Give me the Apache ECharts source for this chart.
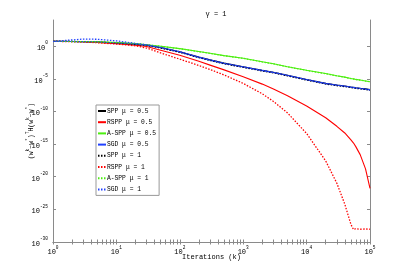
<!DOCTYPE html>
<html><head><meta charset="utf-8">
<script src="https://cdn.jsdelivr.net/npm/echarts@6/dist/echarts.min.js"></script>
<style>html,body{margin:0;padding:0;background:#fff}#c{width:409px;height:273px}</style>
</head><body><div id="c"></div>
<script>
// Iterations k (x values)
var iterations = [1,2,3,5,10,20,30,50,100,200,300,500,1000,2000,3000,5000,10000,20000,30000,40000,50000,55000,60000,70000,85000,100000];
// log10 of (w^k-w*)^T H (w^k-w*) for each series
var sppMu05Exp   = [.72,.71,.69,.63,.49,.30,.17,-.22,-.86,-1.68,-2.10,-2.60,-3.15,-3.70,-4.00,-4.45,-5.10,-5.70,-5.95,-6.10,-6.25,-6.30,-6.37,-6.45,-6.55,-6.65];
var rsppMu05Exp  = [.72,.70,.66,.55,.38,.15,-.05,-.62,-1.40,-2.33,-2.91,-3.64,-4.68,-5.82,-6.58,-7.61,-9.17,-10.97,-12.28,-13.30,-14.35,-14.85,-15.43,-16.62,-18.80,-21.80];
var asppMu05Exp  = [.72,.71,.70,.66,.55,.38,.22,-.02,-.38,-.83,-1.10,-1.45,-1.85,-2.40,-2.70,-3.15,-3.70,-4.20,-4.55,-4.75,-4.95,-5.02,-5.10,-5.20,-5.33,-5.45];
var sgdMu05Exp   = [.72,.71,.69,.63,.48,.28,.15,-.25,-.90,-1.72,-2.15,-2.65,-3.20,-3.75,-4.05,-4.50,-5.15,-5.75,-6.00,-6.15,-6.30,-6.35,-6.42,-6.50,-6.60,-6.70];
var sppMu1Exp    = [.72,.71,.68,.62,.46,.26,.12,-.30,-.95,-1.76,-2.20,-2.70,-3.25,-3.80,-4.10,-4.55,-5.20,-5.80,-6.05,-6.20,-6.35,-6.40,-6.47,-6.55,-6.65,-6.75];
var rsppMu1Exp   = [.72,.70,.65,.52,.32,.05,-.30,-1.05,-2.00,-2.96,-3.58,-4.42,-5.71,-7.30,-8.47,-10.23,-13.38,-17.58,-21.00,-24.20,-27.30,-28.10,-27.95,-28.05,-28.00,-28.05];
var asppMu1Exp   = [.72,.71,.70,.66,.55,.37,.21,-.03,-.40,-.85,-1.12,-1.47,-1.87,-2.42,-2.72,-3.17,-3.72,-4.22,-4.57,-4.77,-4.97,-5.04,-5.12,-5.22,-5.35,-5.47];
var sgdMu1Exp    = [.72,.95,1.08,1.05,.80,.42,.20,-.20,-.85,-1.70,-2.12,-2.62,-3.17,-3.72,-4.02,-4.47,-5.12,-5.72,-5.97,-6.12,-6.27,-6.32,-6.40,-6.48,-6.58,-6.68];
var seriesNames = ['SPP \u03bc = 0.5','RSPP \u03bc = 0.5','A-SPP \u03bc = 0.5','SGD \u03bc = 0.5','SPP \u03bc = 1','RSPP \u03bc = 1','A-SPP \u03bc = 1','SGD \u03bc = 1'];
var yTickExps = [-30,-25,-20,-15,-10,-5,0];

var allExp = [sppMu05Exp,rsppMu05Exp,asppMu05Exp,sgdMu05Exp,sppMu1Exp,rsppMu1Exp,asppMu1Exp,sgdMu1Exp];
var colors = ['#000000','#ff0000','#4cee10','#2040ff','#000000','#ff0000','#4cee10','#2040ff'];
var minorTicks = [];
for (var d = 0; d < 5; d++) for (var m = 1; m < 10; m++) minorTicks.push(m * Math.pow(10, d));
minorTicks.push(100000);
var yTickVals = yTickExps.map(function(e){return Math.pow(10,e);});

var FONT = 'Liberation Mono';
var rich = {
  b: {fontFamily: FONT, fontSize: 7, color: '#000', verticalAlign: 'bottom', lineHeight: 11},
  s: {fontFamily: FONT, fontSize: 4.5, color: '#000', verticalAlign: 'top', lineHeight: 11}
};
function powLabel(v) {
  var e = Math.round(Math.log10(v));
  return '{b|10}{s|' + e + '}';
}
var boxColor = '#8a8a8a';
function xAx(pos, labels) {
  return {
    type: 'log', logBase: 10, min: 1, max: 100000, position: pos, interval: 1,
    axisLine: {show: true, lineStyle: {color: boxColor, width: 1}},
    axisTick: {show: true, inside: true, length: 2.5, customValues: minorTicks, lineStyle: {color: boxColor}},
    axisLabel: {show: labels, formatter: powLabel, rich: rich, margin: 3},
    splitLine: {show: false}, minorTick: {show: false},
    name: labels ? 'Iterations (k)' : '', nameLocation: 'middle', nameGap: 12, nameMoveOverlap: false,
    nameTextStyle: {fontFamily: FONT, fontSize: 7, color: '#000'}
  };
}
function yAx(pos, labels) {
  return {
    type: 'log', logBase: 10, min: 1e-30, max: 1e4, interval: 5, position: pos,
    axisLine: {show: true, lineStyle: {color: boxColor, width: 1}},
    axisTick: {show: true, inside: true, length: 3, customValues: yTickVals, lineStyle: {color: boxColor}},
    axisLabel: {show: labels, formatter: powLabel, rich: rich, margin: 5, customValues: yTickVals},
    splitLine: {show: false},
    name: labels ? '{p|(w}{s|k}{p|\u2212w}{s|*}{p|)}{s|T}{p|H(w}{s|k}{p|\u2212w}{s|*}{p|)}' : '',
    nameLocation: 'middle', nameGap: 18, nameRotate: 90, nameMoveOverlap: false,
    nameTextStyle: {rich: {
      p: {fontFamily: FONT, fontSize: 6.5, color: '#000', verticalAlign: 'bottom', lineHeight: 10},
      s: {fontFamily: FONT, fontSize: 4.5, color: '#000', verticalAlign: 'top', lineHeight: 10}
    }}
  };
}

var series = allExp.map(function(arr, i) {
  return {
    name: seriesNames[i], type: 'line', xAxisIndex: 0, yAxisIndex: 0,
    symbol: 'none', smooth: false, animation: false,
    lineStyle: {color: colors[i], width: i < 4 ? 1.1 : 1.3, type: i < 4 ? 'solid' : [1.5, 1.5]},
    itemStyle: {color: colors[i]},
    data: iterations.map(function(k, j){ return [k, Math.pow(10, arr[j])]; })
  };
});

var chart = echarts.init(document.getElementById('c'), null, {renderer: 'canvas'});
chart.setOption({
  animation: false,
  backgroundColor: '#fff',
  title: {text: '\u03b3 = 1', left: 211, top: 6, textAlign: 'center',
    textStyle: {fontFamily: FONT, fontSize: 7, fontWeight: 'normal', color: '#000'}},
  grid: {left: 53, right: 39, top: 20, bottom: 31, containLabel: false},
  xAxis: [xAx('bottom', true), xAx('top', false)],
  yAxis: [yAx('left', true), yAx('right', false)],
  legend: {
    orient: 'vertical', left: 96, top: 105, itemWidth: 8, itemHeight: 6, itemGap: 5.2,
    padding: [3, 3, 3, 1], borderColor: '#999', borderWidth: 1, backgroundColor: '#fff',
    itemStyle: {color: 'transparent', borderColor: 'transparent', borderWidth: 0, opacity: 0},
    textStyle: {fontFamily: FONT, fontSize: 6.3, color: '#000', padding: [0,0,0,-4]},
    data: seriesNames
  },
  series: series
});
</script></body></html>
